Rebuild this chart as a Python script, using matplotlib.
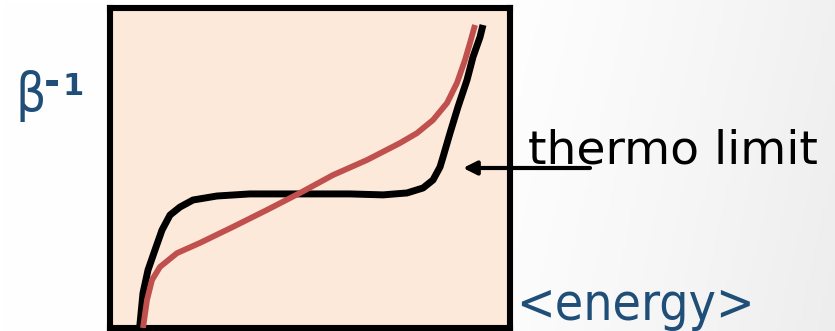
import numpy as np
import matplotlib.pyplot as plt

# curves (energy, inverse temperature), arbitrary units 0..100
finite_E = [7.4, 8.25, 9.5, 11.25, 13.0, 15.0, 17.5, 20.75, 26.75, 35, 47.5, 60,
            68.25, 74.25, 78.25, 80.75, 82.5, 83.25, 85, 87, 89.25, 90.75, 92.5, 93.25]
finite_b = [0, 10.9, 18.1, 24.4, 30.6, 35.3, 37.8, 40.0, 41.25, 41.9, 41.9, 41.9,
            41.6, 42.2, 43.75, 46.25, 50.3, 53.4, 60.9, 69.1, 77.5, 84.7, 90.9, 94.7]

smooth_E = [8.25, 9.25, 10.5, 12.5, 16.75, 22.5, 30.75, 39.25, 47.5, 55.75, 64.25,
            72.5, 76.75, 80.75, 84.25, 86.75, 88.75, 90, 91.25]
smooth_b = [0, 8.75, 15, 19.1, 23.4, 26.6, 31.6, 36.9, 42.2, 47.8, 52.5,
            57.8, 60.9, 65, 70.3, 76.6, 83.75, 89.1, 94.7]

W, H = 835, 331
fig = plt.figure(figsize=(W/100, H/100), dpi=100)

# slide background: white fading to light grey on the right
bg = fig.add_axes([0, 0, 1, 1], zorder=-10)
gx = np.linspace(0, 1, 200)
gy = np.linspace(0, 1, 100)
GX, GY = np.meshgrid(gx, gy)
shade = 1 - 0.055*np.clip((GX - 0.55)/0.45, 0, 1)**1.3 - 0.015*GY*GX
bg.imshow(np.dstack([shade]*3), aspect='auto', extent=[0, 1, 0, 1], vmin=0, vmax=1)
bg.axis('off')

# plot box: pixel 110..510 in x, 8..328 in y
ax = fig.add_axes([110/W, (H-328)/H, 400/W, 320/H])
ax.set_facecolor('#FDE9DA')
ax.set_xlim(0, 100)
ax.set_ylim(0, 100)
ax.set_xticks([])
ax.set_yticks([])
for s in ax.spines.values():
    s.set_linewidth(4.4)
    s.set_color('black')

ax.plot(finite_E, finite_b, color='black', lw=5.0, solid_capstyle='butt',
        solid_joinstyle='round', zorder=3)
ax.plot(smooth_E, smooth_b, color='#C0504D', lw=4.2, solid_capstyle='butt',
        solid_joinstyle='round', zorder=4)

ax.annotate('', xy=(88.25, 50), xytext=(120, 50), xycoords='data', textcoords='data',
            annotation_clip=False,
            arrowprops=dict(arrowstyle='-|>,head_length=0.8,head_width=0.4',
                            color='black', lw=3, shrinkA=0, shrinkB=0))

blue = '#1F4E79'
fig.text(15/W, 1 - 111/H, 'β', fontsize=38, color=blue, fontstretch='condensed',
         ha='left', va='baseline')
fig.text(44/W, 1 - 95/H, '-', fontsize=28, color=blue, fontweight='bold',
         ha='left', va='baseline')
fig.text(63/W, 1 - 95/H, '1', fontsize=22, color=blue, fontweight='bold',
         ha='left', va='baseline')
fig.text(528/W, 1 - 164/H, 'thermo limit', fontsize=34, color='black',
         ha='left', va='baseline')
fig.text(516/W, 1 - 320/H, '<energy>', fontsize=37, color=blue,
         fontstretch='condensed', ha='left', va='baseline')

fig.savefig('out.png', dpi=100)
